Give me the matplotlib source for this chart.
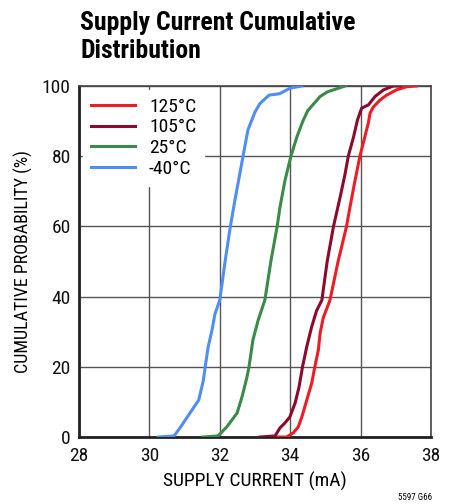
import matplotlib
matplotlib.use("Agg")
import matplotlib.pyplot as plt

plt.rcParams['font.family'] = ['Roboto Condensed', 'Liberation Sans', 'DejaVu Sans']

# ---- data ----
labels = ["125°C", "105°C", "25°C", "-40°C"]
colors = ["#ee1c25", "#8c0b2c", "#3a8a4a", "#4f8ef5"]

x_125 = [33.57, 33.9, 34.09, 34.23, 34.33, 34.47, 34.61, 34.7, 34.8, 34.85, 34.94, 35.13,
         35.36, 35.6, 35.7, 35.84, 35.98, 36.12, 36.22, 36.27, 36.36, 36.55, 36.74, 37.02,
         37.31, 37.59]
p_125 = [0, 0, 1.2, 2.9, 5.7, 10.5, 15.3, 20, 24.8, 29.6, 34, 39,
         50, 60, 65.6, 73, 80, 85.5, 89.5, 92.3, 94, 96, 97.4, 98.9,
         99.8, 100]

x_105 = [33.14, 33.57, 33.71, 33.85, 33.99, 34.14, 34.25, 34.35, 34.47, 34.61, 34.75, 34.9,
         35.05, 35.23, 35.42, 35.56, 35.65, 35.8, 35.91, 36.03, 36.22, 36.41, 36.65, 36.93,
         37.12]
p_105 = [0, 0.3, 2.6, 4, 5.7, 9.7, 14.2, 20, 25.7, 31.4, 36, 39,
         50, 60, 68.4, 75, 80, 85.5, 90.3, 93.7, 94.6, 97, 98.9, 100,
         100]

x_25 = [31.52, 31.95, 32.2, 32.49, 32.63, 32.77, 32.83, 32.94, 33.09, 33.28, 33.45, 33.63,
        33.71, 33.85, 34.02, 34.19, 34.36, 34.5, 34.85, 35.05, 35.56]
p_25 = [0, 0.3, 2.9, 6.8, 11.4, 17, 20, 27.6, 33.3, 39, 50, 60,
        65.5, 73, 80, 85.5, 90, 93, 97, 98.3, 100]

x_m40 = [30.25, 30.7, 30.87, 31.15, 31.4, 31.53, 31.6, 31.67, 31.78, 31.86, 32.0, 32.15,
         32.3, 32.43, 32.55, 32.66, 32.8, 33.0, 33.14, 33.4, 33.7, 34.0, 34.33]
p_m40 = [0, 0.3, 2.6, 6.8, 10.5, 16, 21, 25.7, 30.5, 35, 39, 50,
         60, 67.5, 74, 80, 87.5, 92.6, 95, 97.4, 97.8, 99.4, 100]

series_x = [x_125, x_105, x_25, x_m40]
series_p = [p_125, p_105, p_25, p_m40]

x_ticks = [28, 30, 32, 34, 36, 38]
y_ticks = [0, 20, 40, 60, 80, 100]

# ---- figure ----
fig = plt.figure(figsize=(4.58, 5.04), dpi=100)
ax = fig.add_axes([79/458, 67/504, 352/458, 351/504])

for xs, ps, c, lab in zip(series_x, series_p, colors, labels):
    ax.plot(xs, ps, color=c, lw=2.2, label=lab, solid_joinstyle='round', zorder=3)

ax.set_xlim(28, 38)
ax.set_ylim(0, 100)
ax.set_xticks(x_ticks)
ax.set_yticks(y_ticks)
ax.grid(True, color='#555555', lw=1.0)
ax.set_axisbelow(True)
ax.tick_params(length=0, labelsize=14, colors='#111111')
ax.tick_params(axis='x', pad=7)
ax.tick_params(axis='y', pad=6)
for side in ['left', 'bottom']:
    ax.spines[side].set_linewidth(2.0)
    ax.spines[side].set_color('#222222')
for side in ['top', 'right']:
    ax.spines[side].set_linewidth(1.2)
    ax.spines[side].set_color('#444444')

ax.set_xlabel("SUPPLY CURRENT (mA)", fontsize=14, labelpad=5)
ax.set_ylabel("CUMULATIVE PROBABILITY (%)", fontsize=13, labelpad=6)

leg = ax.legend(loc='upper left', frameon=True, fontsize=14, handlelength=2.3,
                handletextpad=0.7, labelspacing=0.14, borderaxespad=0.2,
                fancybox=False, borderpad=0.4)
leg.get_frame().set_edgecolor('white')
leg.get_frame().set_facecolor('white')
leg.get_frame().set_alpha(1)
leg.set_zorder(5)

fig.text(80/458, 1 - 11/504, "Supply Current Cumulative\nDistribution", fontsize=18.5,
         fontweight='bold', va='top', ha='left', linespacing=1.2)
fig.text(432/458, 1 - 497/504, "5597 G66", fontsize=6.5, ha='right', va='center')

fig.savefig("out.png", dpi=100)
